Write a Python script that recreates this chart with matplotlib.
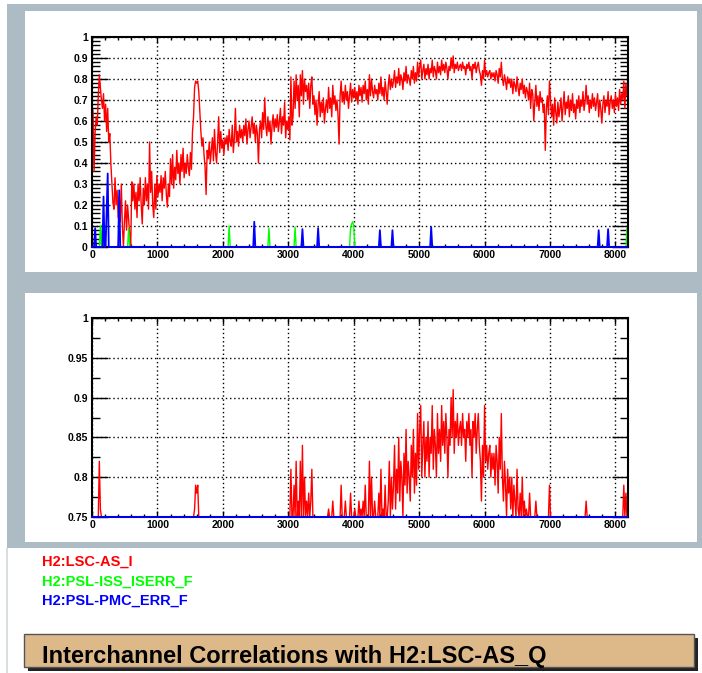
import matplotlib
matplotlib.use("Agg")
import matplotlib.pyplot as plt
import numpy as np
from matplotlib.patches import Rectangle
from matplotlib.ticker import MultipleLocator, FuncFormatter

W, H = 702, 673
BIN = 16  # Hz per bin

# coherence of H2:LSC-AS_Q with H2:LSC-AS_I, one row = 16 bins (256 Hz)
red_vals = [
    0.25, 0.65, 0.36, 0.55, 0.62, 0.58, 0.72, 0.82, 0.76, 0.70, 0.66, 0.73, 0.60, 0.68, 0.55, 0.66,
    0.50, 0.54, 0.40, 0.30, 0.21, 0.18, 0.33, 0.20, 0.27, 0.14, 0.24, 0.12, 0.30, 0.10, 0.00, 0.12,
    0.22, 0.08, 0.20, 0.13, 0.06, 0.00, 0.31, 0.22, 0.30, 0.18, 0.26, 0.14, 0.30, 0.22, 0.33, 0.20,
    0.11, 0.28, 0.20, 0.33, 0.22, 0.30, 0.18, 0.50, 0.26, 0.36, 0.20, 0.14, 0.30, 0.18, 0.34, 0.24,
    0.30, 0.26, 0.34, 0.22, 0.33, 0.28, 0.36, 0.25, 0.19, 0.30, 0.24, 0.42, 0.30, 0.44, 0.28, 0.38,
    0.32, 0.46, 0.35, 0.40, 0.30, 0.44, 0.36, 0.47, 0.33, 0.40, 0.35, 0.44, 0.38, 0.34, 0.45, 0.37,
    0.55, 0.62, 0.76, 0.79, 0.78, 0.79, 0.74, 0.64, 0.55, 0.48, 0.52, 0.44, 0.38, 0.25, 0.46, 0.42,
    0.50, 0.40, 0.46, 0.52, 0.41, 0.56, 0.45, 0.40, 0.50, 0.62, 0.45, 0.55, 0.47, 0.51, 0.44, 0.52,
    0.49, 0.53, 0.46, 0.56, 0.50, 0.48, 0.58, 0.45, 0.52, 0.66, 0.50, 0.55, 0.48, 0.58, 0.52, 0.56,
    0.50, 0.58, 0.53, 0.61, 0.49, 0.56, 0.60, 0.52, 0.57, 0.62, 0.54, 0.59, 0.50, 0.58, 0.54, 0.40,
    0.56, 0.60, 0.52, 0.64, 0.56, 0.71, 0.58, 0.53, 0.62, 0.55, 0.60, 0.49, 0.58, 0.63, 0.55, 0.61,
    0.57, 0.63, 0.55, 0.60, 0.66, 0.54, 0.62, 0.58, 0.69, 0.52, 0.60, 0.56, 0.62, 0.51, 0.81, 0.58,
    0.62, 0.79, 0.66, 0.82, 0.70, 0.77, 0.62, 0.82, 0.72, 0.84, 0.68, 0.80, 0.74, 0.77, 0.70, 0.78,
    0.66, 0.77, 0.81, 0.68, 0.72, 0.63, 0.70, 0.58, 0.68, 0.74, 0.62, 0.69, 0.64, 0.71, 0.59, 0.66,
    0.70, 0.64, 0.76, 0.66, 0.71, 0.62, 0.77, 0.68, 0.72, 0.65, 0.70, 0.63, 0.49, 0.72, 0.79, 0.69,
    0.74, 0.68, 0.77, 0.70, 0.74, 0.66, 0.72, 0.78, 0.69, 0.75, 0.71, 0.76, 0.70, 0.74, 0.68, 0.77,
    0.72, 0.76, 0.69, 0.77, 0.73, 0.79, 0.70, 0.75, 0.68, 0.82, 0.72, 0.80, 0.74, 0.71, 0.77, 0.73,
    0.75, 0.70, 0.78, 0.73, 0.81, 0.72, 0.76, 0.70, 0.79, 0.74, 0.68, 0.77, 0.82, 0.75, 0.80, 0.76,
    0.79, 0.84, 0.76, 0.81, 0.78, 0.85, 0.77, 0.82, 0.80, 0.75, 0.83, 0.79, 0.86, 0.78, 0.82, 0.80,
    0.77, 0.84, 0.80, 0.86, 0.78, 0.83, 0.79, 0.88, 0.81, 0.86, 0.89, 0.80, 0.84, 0.87, 0.80, 0.85,
    0.82, 0.87, 0.80, 0.85, 0.83, 0.89, 0.81, 0.86, 0.84, 0.80, 0.88, 0.83, 0.86, 0.82, 0.89, 0.84,
    0.87, 0.83, 0.88, 0.85, 0.80, 0.86, 0.84, 0.90, 0.85, 0.91, 0.83, 0.87, 0.85, 0.88, 0.84, 0.86,
    0.87, 0.84, 0.88, 0.85, 0.86, 0.82, 0.87, 0.85, 0.88, 0.84, 0.86, 0.80, 0.87, 0.85, 0.88, 0.83,
    0.86, 0.88, 0.84, 0.82, 0.77, 0.84, 0.80, 0.89, 0.82, 0.84, 0.81, 0.83, 0.84, 0.80, 0.83, 0.81,
    0.83, 0.79, 0.84, 0.82, 0.78, 0.85, 0.81, 0.88, 0.80, 0.77, 0.82, 0.79, 0.75, 0.81, 0.78, 0.80,
    0.76, 0.80, 0.73, 0.79, 0.77, 0.74, 0.81, 0.76, 0.72, 0.78, 0.75, 0.80, 0.73, 0.77, 0.71, 0.76,
    0.74, 0.70, 0.78, 0.66, 0.75, 0.73, 0.60, 0.69, 0.77, 0.67, 0.72, 0.65, 0.74, 0.69, 0.71, 0.64,
    0.68, 0.46, 0.66, 0.72, 0.63, 0.79, 0.70, 0.62, 0.68, 0.58, 0.71, 0.64, 0.59, 0.69, 0.62, 0.66,
    0.71, 0.60, 0.67, 0.74, 0.63, 0.69, 0.66, 0.72, 0.62, 0.70, 0.65, 0.73, 0.64, 0.68, 0.61, 0.70,
    0.66, 0.72, 0.64, 0.70, 0.67, 0.74, 0.65, 0.69, 0.77, 0.68, 0.72, 0.64, 0.70, 0.66, 0.73, 0.67,
    0.71, 0.65, 0.69, 0.73, 0.62, 0.70, 0.66, 0.59, 0.68, 0.72, 0.64, 0.70, 0.67, 0.74, 0.63, 0.69,
    0.72, 0.66, 0.70, 0.64, 0.73, 0.67, 0.71, 0.65, 0.75, 0.68, 0.73, 0.70, 0.79, 0.66, 0.78, 0.72,
]

# the other two channels are zero except for a few narrow lines
green_freqs = [128, 160, 560, 2096, 2704, 3104, 3952, 3968, 3984, 4000, 8176]
green_peaks = [0.10, 0.11, 0.09, 0.10, 0.09, 0.095, 0.09, 0.11, 0.12, 0.10, 0.09]
blue_freqs = [48, 176, 224, 240, 416, 2480, 3216, 3456, 4400, 4592, 5184, 7744, 7888]
blue_peaks = [0.09, 0.24, 0.17, 0.35, 0.27, 0.12, 0.085, 0.09, 0.08, 0.08, 0.095, 0.08, 0.085]

channel_names = ["H2:LSC-AS_I", "H2:PSL-ISS_ISERR_F", "H2:PSL-PMC_ERR_F"]
channel_colors = ["#ff0000", "#00ff00", "#0000ff"]
title_text = "Interchannel Correlations with H2:LSC-AS_Q"

freq = np.arange(len(red_vals)) * BIN
red = np.array(red_vals)
green = np.zeros(len(freq))
green[np.array(green_freqs) // BIN] = green_peaks
blue = np.zeros(len(freq))
blue[np.array(blue_freqs) // BIN] = blue_peaks

FONT = "Liberation Sans"
GRAY = "#adbbc4"


def fig_rect(x0, y0, x1, y1):
    return [x0 / W, 1 - y1 / H, (x1 - x0) / W, (y1 - y0) / H]


def add_box(fig, x0, y0, x1, y1, zorder=-10, **kw):
    l, b, w, h = fig_rect(x0, y0, x1, y1)
    fig.patches.append(Rectangle((l, b), w, h, transform=fig.transFigure,
                                 zorder=zorder, **kw))


def style_axes(ax, ymin, ymax, ymajor, yminor):
    ax.set_xlim(0, 8192)
    ax.set_ylim(ymin, ymax)
    ax.xaxis.set_major_locator(MultipleLocator(1000))
    ax.xaxis.set_minor_locator(MultipleLocator(200))
    ax.yaxis.set_major_locator(MultipleLocator(ymajor))
    ax.yaxis.set_minor_locator(MultipleLocator(yminor))
    fmt = FuncFormatter(lambda v, _: f"{round(v, 4):g}")
    ax.xaxis.set_major_formatter(fmt)
    ax.yaxis.set_major_formatter(fmt)
    ax.tick_params(axis="both", which="both", direction="in", top=True, right=True,
                   width=1.0, color="black")
    ax.tick_params(axis="y", which="major", length=11.5, pad=3)
    ax.tick_params(axis="y", which="minor", length=5.8)
    ax.tick_params(axis="x", which="major", length=4.5, pad=2)
    ax.tick_params(axis="x", which="minor", length=2.3)
    for lab in ax.get_xticklabels() + ax.get_yticklabels():
        lab.set_fontfamily(FONT)
        lab.set_fontweight("bold")
        lab.set_fontsize(7.5)
    for sp in ax.spines.values():
        sp.set_linewidth(1.5)
    ax.grid(True, which="major", color="black", linestyle=(0, (1, 2)), linewidth=1.0)
    ax.set_axisbelow(True)


def draw_channels(ax, floor):
    ax.plot(freq, np.clip(red, floor, None), color=channel_colors[0], lw=1.0, zorder=2)
    ax.plot(freq, np.clip(green, floor, None), color=channel_colors[1], lw=1.0, zorder=2.1)
    ax.plot(freq, np.clip(blue, floor, None), color=channel_colors[2], lw=1.3, zorder=3,
            clip_on=False)


fig = plt.figure(figsize=(W / 100, H / 100), dpi=100)
fig.patch.set_facecolor("white")

# grey canvas frame with two white pads
add_box(fig, 7, 4, 702, 548, facecolor=GRAY, edgecolor="none", zorder=-12)
add_box(fig, 25, 11, 697, 272, facecolor="white", edgecolor="none")
add_box(fig, 25, 293, 697, 542, facecolor="white", edgecolor="none")
add_box(fig, 6, 548, 7.5, 673, facecolor="#d8dde0", edgecolor="none")

ax1 = fig.add_axes(fig_rect(92, 37, 628, 247))
draw_channels(ax1, 0.0)
style_axes(ax1, 0, 1, 0.1, 0.02)

ax2 = fig.add_axes(fig_rect(92, 318, 628, 517))
draw_channels(ax2, 0.75)
style_axes(ax2, 0.75, 1, 0.05, 0.025)

# channel list
for i, (name, col) in enumerate(zip(channel_names, channel_colors)):
    fig.text(42 / W, 1 - (562 + 19.5 * i) / H, name, color=col, fontsize=10.5,
             fontweight="bold", family=FONT, va="center", ha="left")

# title banner with drop shadow
add_box(fig, 28, 638, 698, 671, zorder=1, facecolor="#222222", edgecolor="none")
add_box(fig, 24, 634, 694, 667, zorder=1.1, facecolor="#ddb98a", edgecolor="#555555",
        linewidth=1.0)
fig.text(42 / W, 1 - 656 / H, title_text, color="black", fontsize=17,
         fontweight="bold", family=FONT, va="center", ha="left", zorder=2)

fig.savefig("out.png", dpi=100)
